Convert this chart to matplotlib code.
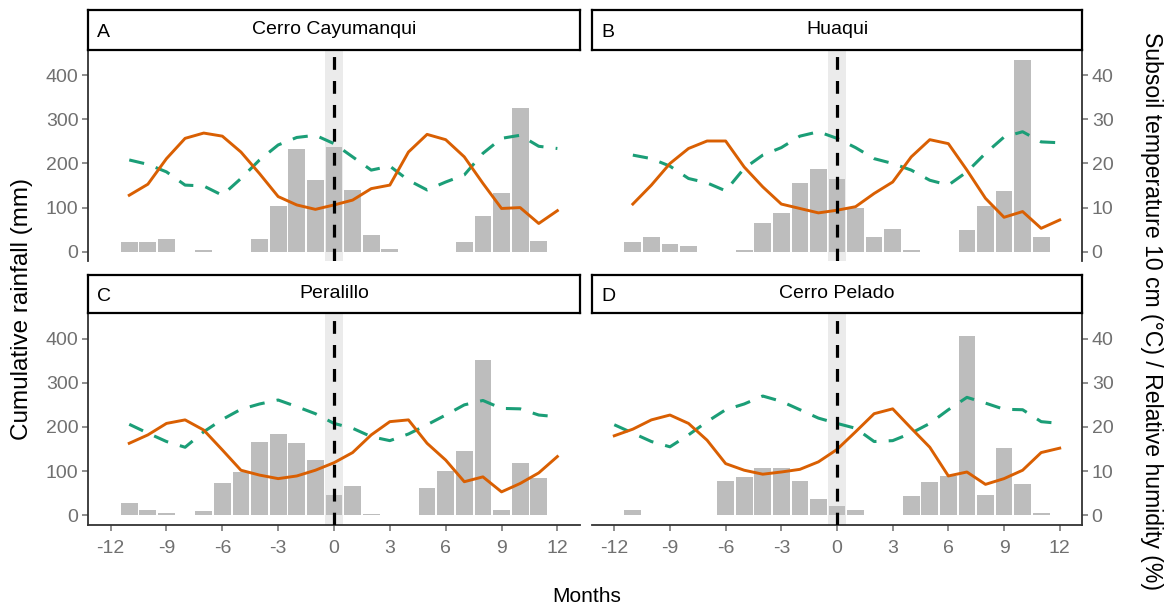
import numpy as np
import matplotlib
matplotlib.use("Agg")
import matplotlib.pyplot as plt

plt.rcParams['font.family'] = ['Liberation Sans', 'DejaVu Sans']

# ---- data -------------------------------------------------------------
bar_months = list(range(-11, 12))

rain_A = [23, 23, 28, 0, 4, 0, 0, 28, 103, 232, 162, 238, 141, 38, 6, 0, 0, 0, 23, 81, 132, 325, 25]
rain_B = [23, 34, 17, 14, 0, 0, 3, 66, 87, 156, 188, 165, 98, 34, 51, 3, 0, 0, 49, 104, 138, 435, 34]
rain_C = [27, 11, 6, 0, 9, 74, 99, 166, 183, 163, 125, 47, 67, 3, 0, 0, 61, 101, 145, 352, 11, 119, 85]
rain_D = [11, 0, 0, 0, 0, 78, 87, 108, 108, 78, 36, 20, 11, 0, 0, 43, 76, 89, 405, 47, 152, 70, 6]

line_months_ABC = list(range(-11, 13))
line_months_D = list(range(-12, 13))

temp_A = [12.8, 15.3, 21.1, 25.7, 26.9, 26.2, 22.6, 17.7, 12.5, 10.6, 9.6, 10.6,
          11.7, 14.3, 15.1, 22.6, 26.6, 25.4, 21.5, 15.5, 9.8, 10.0, 6.4, 9.3]
hum_A = [20.8, 19.8, 18.1, 15.1, 14.9, 12.8, 16.6, 20.8, 24.2, 25.9, 26.4, 24.5,
         21.5, 18.5, 19.4, 16.2, 14.0, 15.8, 17.4, 22.3, 25.7, 26.4, 23.9, 23.4]

temp_B = [10.8, 15.1, 20.0, 23.4, 25.1, 25.1, 19.2, 14.7, 10.8, 9.8, 8.8, 9.4,
          10.2, 13.2, 15.8, 21.5, 25.4, 24.5, 18.5, 12.1, 7.8, 9.1, 5.3, 7.2]
hum_B = [21.9, 21.1, 19.4, 16.6, 15.6, 13.8, 18.9, 21.9, 23.6, 26.2, 27.2, 25.7,
         23.6, 21.1, 20.0, 18.5, 16.2, 15.1, 18.1, 22.3, 26.0, 27.2, 24.9, 24.7]

temp_C = [16.3, 18.2, 20.8, 21.6, 19.3, 14.8, 10.2, 9.1, 8.3, 8.9, 10.2, 11.9,
          14.2, 18.2, 21.2, 21.6, 16.3, 12.5, 7.6, 8.7, 5.3, 7.2, 9.6, 13.3]
hum_C = [20.6, 18.6, 16.7, 15.4, 18.9, 21.7, 24.0, 25.2, 26.1, 24.6, 23.0, 20.8,
         19.7, 17.8, 16.9, 18.4, 20.5, 22.7, 25.0, 26.0, 24.2, 24.1, 22.7, 22.3]

temp_D = [18.0, 19.5, 21.6, 22.7, 20.8, 17.0, 11.7, 10.2, 9.3, 9.8, 10.4, 12.1, 14.9,
          18.9, 23.0, 24.1, 19.7, 15.4, 8.9, 9.8, 7.0, 8.3, 10.2, 14.2, 15.2]
hum_D = [20.5, 18.6, 16.7, 15.5, 18.2, 21.2, 23.9, 25.2, 27.0, 25.8, 23.9, 22.0, 20.8,
         19.7, 16.7, 16.9, 18.6, 20.8, 23.9, 26.7, 25.4, 24.0, 23.9, 21.2, 20.8]

panel_letters = ["A", "B", "C", "D"]
panel_names = ["Cerro Cayumanqui", "Huaqui", "Peralillo", "Cerro Pelado"]
rain_series = [rain_A, rain_B, rain_C, rain_D]
line_months = [line_months_ABC, line_months_ABC, line_months_ABC, line_months_D]
temp_series = [temp_A, temp_B, temp_C, temp_D]
hum_series = [hum_A, hum_B, hum_C, hum_D]

x_ticks = [-12, -9, -6, -3, 0, 3, 6, 9, 12]
rain_ticks = [0, 100, 200, 300, 400]
right_ticks = [0, 10, 20, 30, 40]

# ---- styling ----------------------------------------------------------
W, H = 1170, 609
BAR_COLOR = "#bdbdbd"
ORANGE = "#d95f02"
GREEN = "#1b9e77"
TICK_COLOR = "#707070"
BAND_COLOR = "#ebebeb"

fig = plt.figure(figsize=(W / 100, H / 100), dpi=100)


def fx(px):
    return px / W


def fy(py):
    return 1 - py / H


# panel boxes in pixels: (left, right, top, bottom)
cols = [(88.3, 579.7), (592.0, 1082.0)]
rows = [(49.7, 261.4), (313.0, 525.0)]
strips = [(10.0, 49.7), (275.5, 313.0)]

for i in range(4):
    r, c = divmod(i, 2)
    l, rr = cols[c]
    t, b = rows[r]
    ax = fig.add_axes([fx(l), fy(b), fx(rr - l), fy(t) - fy(b)])
    ax.set_xlim(-13.2, 13.2)
    ax.set_ylim(-22, 458)

    # highlighted window around month 0
    ax.axvspan(-0.5, 0.5, color=BAND_COLOR, zorder=0, lw=0)
    ax.bar(bar_months, rain_series[i], width=0.9, color=BAR_COLOR, zorder=1, lw=0)

    ax2 = ax.twinx()
    ax2.set_ylim(-2.2, 45.8)
    ax2.plot(line_months[i], hum_series[i], color=GREEN, lw=2.2,
             linestyle=(0, (5, 4)), zorder=2)
    ax2.plot(line_months[i], temp_series[i], color=ORANGE, lw=2.1, zorder=3)
    ax2.axvline(0, color="black", lw=2.3, linestyle=(0, (4, 3.5)), zorder=4)

    for a in (ax, ax2):
        for s in a.spines.values():
            s.set_visible(False)
        a.set_xticks(x_ticks)
        a.tick_params(axis='both', colors=TICK_COLOR, labelcolor=TICK_COLOR,
                      labelsize=14, length=4, width=1.1, pad=3)

    # left axis only on left column
    if c == 0:
        ax.spines['left'].set_visible(True)
        ax.spines['left'].set_color("#333333")
        ax.spines['left'].set_linewidth(1.3)
        ax.set_yticks(rain_ticks)
    else:
        ax.set_yticks([])
    ax2.set_yticks(right_ticks if c == 1 else [])
    if c == 1:
        ax2.spines['right'].set_visible(True)
        ax2.spines['right'].set_color("#333333")
        ax2.spines['right'].set_linewidth(1.3)

    ax2.tick_params(axis='x', bottom=False, labelbottom=False)
    if r == 1:
        ax.spines['bottom'].set_visible(True)
        ax.spines['bottom'].set_color("#333333")
        ax.spines['bottom'].set_linewidth(1.3)
        ax.set_xticklabels([str(v) for v in x_ticks])
        ax.tick_params(axis='x', pad=7)
    else:
        ax.tick_params(axis='x', bottom=False, labelbottom=False)

    # strip header
    st, sb = strips[r]
    sax = fig.add_axes([fx(l), fy(sb), fx(rr - l), fy(st) - fy(sb)])
    sax.set_xticks([])
    sax.set_yticks([])
    for s in sax.spines.values():
        s.set_linewidth(1.6)
        s.set_color("black")
    sax.text(0.5, 0.52, panel_names[i], ha="center", va="center", fontsize=14,
             transform=sax.transAxes)
    sax.text(9 / (rr - l), 0.44, panel_letters[i], ha="left", va="center", fontsize=14,
             transform=sax.transAxes)

fig.text(fx(22), fy(309), "Cumulative rainfall (mm)", rotation=90,
         ha="center", va="center", fontsize=17.5)
fig.text(fx(1151), fy(311), "Subsoil temperature 10 cm (°C) / Relative humidity (%)",
         rotation=-90, ha="center", va="center", fontsize=16.6)
fig.text(fx(587), fy(596), "Months", ha="center", va="center", fontsize=15)

fig.savefig("out.png", dpi=100)
